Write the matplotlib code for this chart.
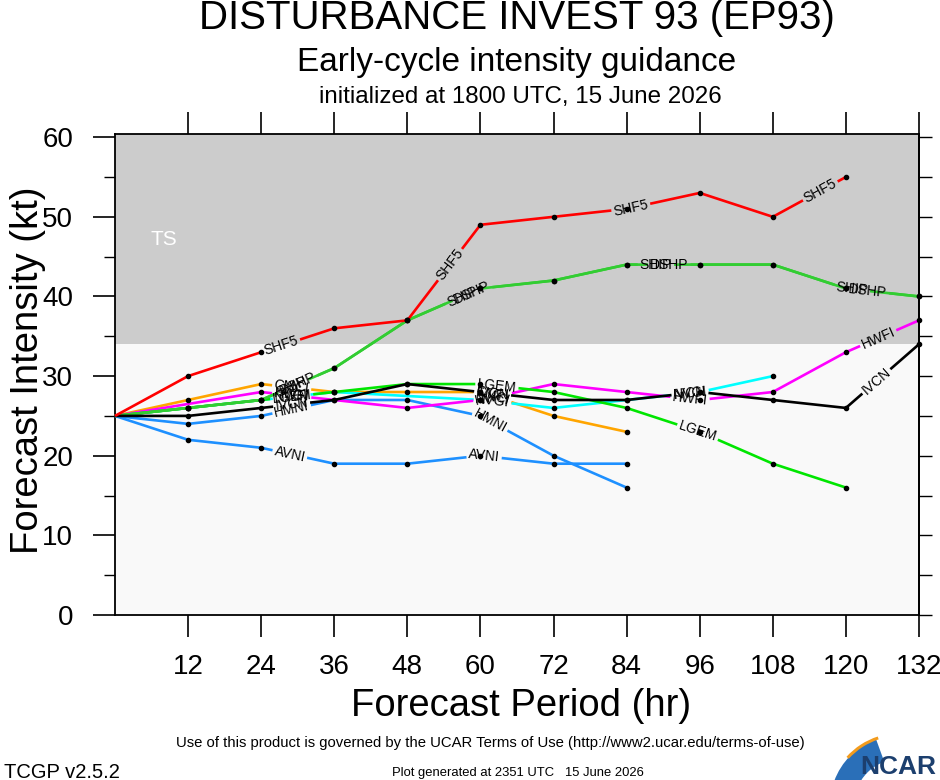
import matplotlib
matplotlib.use('Agg')
import matplotlib.pyplot as plt
import matplotlib.patches as patches
from matplotlib.transforms import IdentityTransform
import numpy as np

plt.rcParams['font.family'] = ['Liberation Sans', 'DejaVu Sans']

nan = np.nan
hours = [0, 12, 24, 36, 48, 60, 72, 84, 96, 108, 120, 132]

shf5 = [25, 30, 33, 36, 37, 49, 50, 51, 53, 50, 55, nan]
ship = [25, 26, 27, 31, 37, 41, 42, 44, 44, 44, 41, 40]
dshp = [25, 26, 27, 31, 37, 41, 42, 44, 44, 44, 41, 40]
lgem = [25, 26, 27, 28, 29, 29, 28, 26, 23, 19, 16, nan]
cmci = [25, 27, 29, 28, 28, 28, 25, 23, nan, nan, nan, nan]
hwfi = [25, nan, 28, nan, 26, 27, 29, 28, 27, 28, 33, 37]
nvgi = [25, 26, 27, 28, nan, 27, 26, 27, 28, 30, nan, nan]
ivcn = [25, 25, 26, 27, 29, 28, 27, 27, 28, 27, 26, 34]
hmni = [25, 24, 25, 27, 27, 25, 20, 16, nan, nan, nan, nan]
avni = [25, 22, 21, 19, 19, 20, 19, 19, nan, nan, nan, nan]

# where the inline model labels sit (forecast hour along each line)
label_at = {
    'SHF5': [27.3, 55, 84.7, 115.8],
    'SHIP': [29, 57, 88.8, 121],
    'DSHP': [30, 58.6, 91, 123.6],
    'LGEM': [29, 62.7, 95.7],
    'CMCI': [29, 62],
    'HWFI': [29, 62, 94.4, 125.3],
    'NVGI': [29, 62, 94.4],
    'IVCN': [29, 62, 94.4, 125],
    'HMNI': [29, 61.6],
    'AVNI': [28.7, 60.6],
}

series = [
    ('AVNI', avni, '#1e90ff'),
    ('HMNI', hmni, '#1e90ff'),
    ('CMCI', cmci, '#ffa500'),
    ('NVGI', nvgi, '#00ffff'),
    ('HWFI', hwfi, '#ff00ff'),
    ('LGEM', lgem, '#00e600'),
    ('SHIP', ship, '#32cd32'),
    ('DSHP', dshp, '#32cd32'),
    ('IVCN', ivcn, '#000000'),
    ('SHF5', shf5, '#ff0000'),
]

fig = plt.figure(figsize=(9.4, 7.8), dpi=100, facecolor='white')
ax = fig.add_axes([115 / 940, 165 / 780, 804 / 940, 481 / 780])
ax.set_xlim(0, 132)
ax.set_ylim(0, 60.4)
ax.axhspan(0, 34, color='#f9f9f9', zorder=0, lw=0)
ax.axhspan(34, 60.4, color='#cccccc', zorder=0, lw=0)
ax.text(8, 47.2, 'TS', color='white', fontsize=15, ha='center', va='center')

renderer = fig.canvas.get_renderer()


def draw_series(name, vals, color, z):
    v = np.array(vals, dtype=float)
    ok = ~np.isnan(v)
    xs = np.array(hours, dtype=float)[ok]
    ys = v[ok]
    disp = ax.transData.transform(np.column_stack([xs, ys]))
    seg = np.diff(disp, axis=0)
    seglen = np.hypot(seg[:, 0], seg[:, 1])
    s = np.concatenate([[0], np.cumsum(seglen)])

    # labels sit on the line, the line is cut where they are
    gaps = []
    for h in label_at[name]:
        k = int(np.clip(np.searchsorted(xs, h) - 1, 0, len(xs) - 2))
        f = (h - xs[k]) / (xs[k + 1] - xs[k])
        c = disp[k] + f * seg[k]
        ang = np.degrees(np.arctan2(seg[k, 1], seg[k, 0]))
        cx, cy = ax.transData.inverted().transform(c)
        t = ax.text(cx, cy, name, fontsize=10, ha='center', va='center',
                    rotation_mode='anchor', zorder=40, color='black')
        w = t.get_window_extent(renderer).width
        t.set_rotation(ang)
        sc = s[k] + f * seglen[k]
        gaps.append((sc - w / 2 - 2, sc + w / 2 + 2))

    def in_gap(val):
        return any(a < val < b for a, b in gaps)

    brk = sorted(set(list(s) + [g for gp in gaps for g in gp]))
    brk = [b for b in brk if 0 <= b <= s[-1]]
    out = []
    prev = None
    for b in brk:
        if in_gap(b):
            continue
        if prev is not None and in_gap((prev + b) / 2):
            out.append((nan, nan))
        out.append((np.interp(b, s, disp[:, 0]), np.interp(b, s, disp[:, 1])))
        prev = b
    out = np.array(out)
    data = np.full_like(out, nan)
    good = ~np.isnan(out[:, 0])
    data[good] = ax.transData.inverted().transform(out[good])
    ax.plot(data[:, 0], data[:, 1], color=color, lw=1.9, zorder=z,
            solid_capstyle='butt', clip_on=False)
    ax.plot(xs[xs > 0], ys[xs > 0], 'o', ms=3, color='black', zorder=30, clip_on=False)


for i, (name, vals, color) in enumerate(series):
    draw_series(name, vals, color, 5 + i)

# axes and ticks
ax.set_xticks(range(12, 133, 12))
ax.set_yticks(range(0, 61, 10))
ax.set_yticks(range(5, 60, 10), minor=True)
ax.tick_params(axis='x', which='major', direction='out', length=16, width=1.2,
               labelsize=20, pad=12, top=True)
ax.tick_params(axis='y', which='major', direction='out', length=16, width=1.2,
               labelsize=20, pad=14)
ax.tick_params(axis='y', which='minor', direction='out', length=8, width=1)
for sp in ax.spines.values():
    sp.set_linewidth(1.3)
sec = ax.secondary_yaxis('right')
sec.set_yticks(range(0, 61, 5))
sec.tick_params(direction='out', length=9, width=1, labelright=False)
sec.spines['right'].set_linewidth(1.3)

# titles
fig.text(517 / 940, 1 - 18 / 780, 'DISTURBANCE INVEST 93 (EP93)', fontsize=29,
         ha='center', va='center')
fig.text(517 / 940, 1 - 62 / 780, 'Early-cycle intensity guidance', fontsize=24,
         ha='center', va='center')
fig.text(520 / 940, 1 - 97 / 780, 'initialized at 1800 UTC, 15 June 2026', fontsize=17.4,
         ha='center', va='center')
fig.text(28 / 940, 1 - 370 / 780, 'Forecast Intensity (kt)', fontsize=27.5,
         rotation=90, ha='center', va='center')
fig.text(521 / 940, 1 - 706 / 780, 'Forecast Period (hr)', fontsize=27.5,
         ha='center', va='center')

# footer
fig.text(490 / 940, 1 - 743 / 780,
         'Use of this product is governed by the UCAR Terms of Use (http://www2.ucar.edu/terms-of-use)',
         fontsize=10.7, ha='center', va='center')
fig.text(4 / 940, 1 - 772 / 780, 'TCGP v2.5.2', fontsize=14.5, ha='left', va='center')
fig.text(518 / 940, 1 - 773 / 780, 'Plot generated at 2351 UTC   15 June 2026', fontsize=9.4,
         ha='center', va='center')

# NCAR logo (pixel coordinates, origin bottom-left)
swoosh = patches.Wedge((900, -25), 70, 110, 160, width=24, transform=IdentityTransform(),
                       facecolor='#2a6fb8', edgecolor='none', zorder=1)
fig.patches.append(swoosh)
arc = patches.Wedge((900, -25), 72, 108, 138, width=3, transform=IdentityTransform(),
                    facecolor='#f29b1d', edgecolor='none', zorder=1)
fig.patches.append(arc)
fig.text(936 / 940, 1 - 767 / 780, 'NCAR', fontsize=19, ha='right', va='center',
         color='#1c3f6e', fontweight='bold')

fig.savefig('out.png', dpi=100, facecolor='white')
